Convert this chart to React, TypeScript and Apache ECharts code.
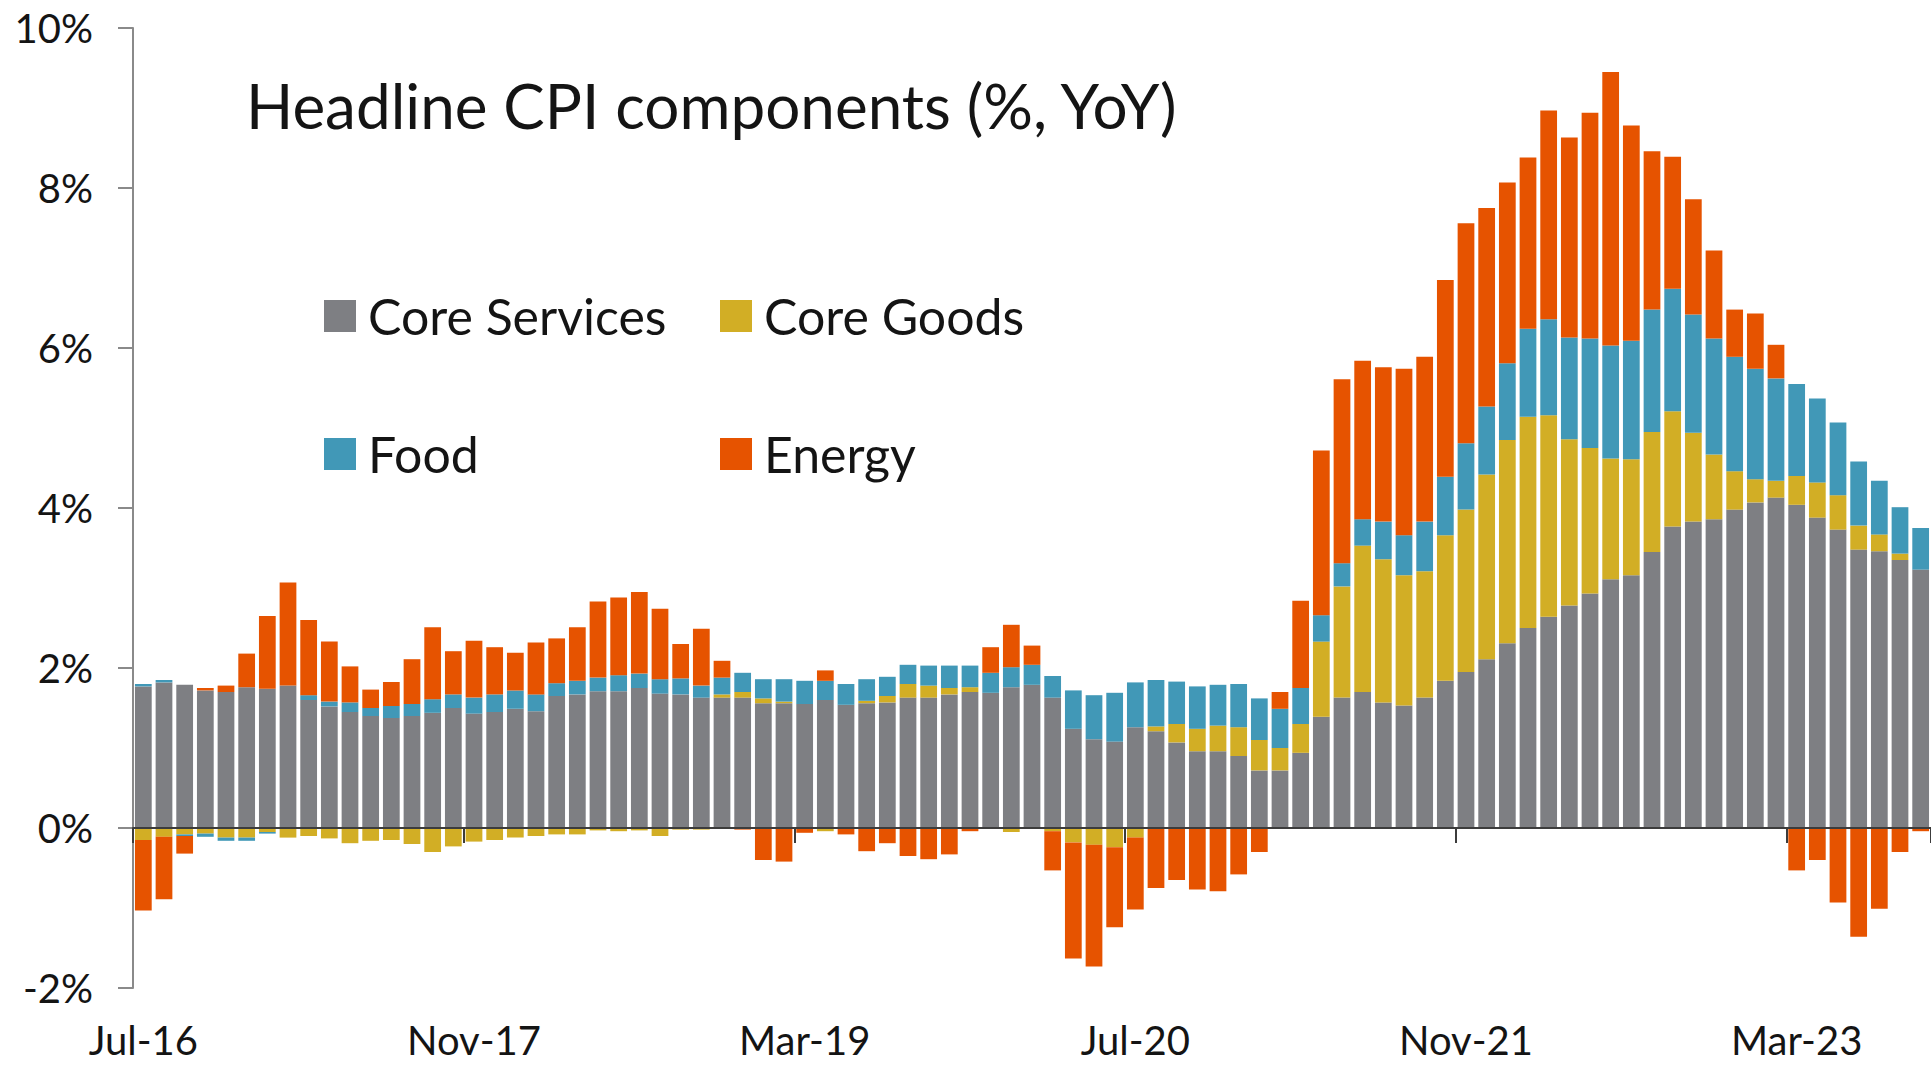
import React, { useEffect, useRef } from 'react';
import * as echarts from 'echarts';

const months = [
  'Jul-16', 'Aug-16', 'Sep-16', 'Oct-16', 'Nov-16', 'Dec-16',
  'Jan-17', 'Feb-17', 'Mar-17', 'Apr-17', 'May-17', 'Jun-17', 'Jul-17', 'Aug-17', 'Sep-17', 'Oct-17', 'Nov-17', 'Dec-17',
  'Jan-18', 'Feb-18', 'Mar-18', 'Apr-18', 'May-18', 'Jun-18', 'Jul-18', 'Aug-18', 'Sep-18', 'Oct-18', 'Nov-18', 'Dec-18',
  'Jan-19', 'Feb-19', 'Mar-19', 'Apr-19', 'May-19', 'Jun-19', 'Jul-19', 'Aug-19', 'Sep-19', 'Oct-19', 'Nov-19', 'Dec-19',
  'Jan-20', 'Feb-20', 'Mar-20', 'Apr-20', 'May-20', 'Jun-20', 'Jul-20', 'Aug-20', 'Sep-20', 'Oct-20', 'Nov-20', 'Dec-20',
  'Jan-21', 'Feb-21', 'Mar-21', 'Apr-21', 'May-21', 'Jun-21', 'Jul-21', 'Aug-21', 'Sep-21', 'Oct-21', 'Nov-21', 'Dec-21',
  'Jan-22', 'Feb-22', 'Mar-22', 'Apr-22', 'May-22', 'Jun-22', 'Jul-22', 'Aug-22', 'Sep-22', 'Oct-22', 'Nov-22', 'Dec-22',
  'Jan-23', 'Feb-23', 'Mar-23', 'Apr-23', 'May-23', 'Jun-23', 'Jul-23', 'Aug-23', 'Sep-23',
];

const coreServices = [
  1.77, 1.82, 1.79, 1.72, 1.70, 1.76,
  1.74, 1.78, 1.60, 1.52, 1.45, 1.40, 1.375, 1.40, 1.44, 1.50, 1.43, 1.45,
  1.49, 1.46, 1.65, 1.67, 1.71, 1.71, 1.75, 1.68, 1.67, 1.63, 1.63, 1.63,
  1.56, 1.56, 1.55, 1.60, 1.54, 1.56, 1.57, 1.63, 1.63, 1.67, 1.70, 1.69,
  1.76, 1.79, 1.63, 1.24, 1.11, 1.08, 1.26, 1.21, 1.07, 0.96, 0.96, 0.90,
  0.72, 0.72, 0.94, 1.39, 1.63, 1.70, 1.57, 1.53, 1.63, 1.84, 1.95, 2.11,
  2.31, 2.50, 2.64, 2.78, 2.93, 3.11, 3.16, 3.45, 3.77, 3.83, 3.86, 3.98,
  4.07, 4.13, 4.04, 3.88, 3.73, 3.48, 3.46, 3.35, 3.23,
];

const coreGoods = [
  -0.15, -0.11, -0.08, -0.07, -0.12, -0.12,
  -0.05, -0.12, -0.10, -0.13, -0.19, -0.16, -0.15, -0.20, -0.30, -0.23, -0.17, -0.15,
  -0.12, -0.10, -0.08, -0.08, -0.03, -0.04, -0.03, -0.10, -0.02, -0.02, 0.04, 0.07,
  0.06, 0.02, 0.0, -0.04, 0.0, 0.03, 0.08, 0.17, 0.15, 0.08, 0.06, 0.0,
  -0.05, 0.0, -0.04, -0.18, -0.21, -0.24, -0.12, 0.06, 0.23, 0.28, 0.32, 0.36,
  0.38, 0.28, 0.36, 0.94, 1.39, 1.83, 1.79, 1.63, 1.58, 1.82, 2.03, 2.31,
  2.54, 2.64, 2.52, 2.08, 1.82, 1.51, 1.45, 1.50, 1.44, 1.11, 0.81, 0.48,
  0.29, 0.21, 0.36, 0.44, 0.43, 0.30, 0.21, 0.08, 0.0,
];

const food = [
  0.03, 0.03, -0.02, -0.04, -0.04, -0.04,
  -0.02, 0.0, 0.06, 0.06, 0.12, 0.10, 0.15, 0.15, 0.17, 0.17, 0.20, 0.22,
  0.23, 0.21, 0.16, 0.17, 0.17, 0.20, 0.18, 0.18, 0.20, 0.15, 0.21, 0.24,
  0.24, 0.28, 0.29, 0.24, 0.26, 0.27, 0.24, 0.24, 0.25, 0.28, 0.27, 0.25,
  0.25, 0.25, 0.27, 0.48, 0.55, 0.61, 0.56, 0.58, 0.53, 0.53, 0.51, 0.54,
  0.52, 0.49, 0.45, 0.33, 0.29, 0.33, 0.47, 0.50, 0.62, 0.73, 0.83, 0.85,
  0.96, 1.10, 1.20, 1.27, 1.37, 1.41, 1.48, 1.53, 1.53, 1.48, 1.45, 1.43,
  1.38, 1.28, 1.15, 1.05, 0.91, 0.80, 0.67, 0.58, 0.52,
];

const energy = [
  -0.88, -0.78, -0.22, 0.03, 0.08, 0.42,
  0.91, 1.29, 0.94, 0.75, 0.45, 0.23, 0.30, 0.56, 0.90, 0.54, 0.71, 0.59,
  0.47, 0.65, 0.56, 0.67, 0.95, 0.97, 1.02, 0.88, 0.43, 0.71, 0.21, -0.02,
  -0.40, -0.42, -0.06, 0.13, -0.08, -0.29, -0.19, -0.35, -0.39, -0.33, -0.04, 0.32,
  0.53, 0.24, -0.49, -1.45, -1.52, -1.00, -0.90, -0.75, -0.65, -0.77, -0.79, -0.58,
  -0.30, 0.21, 1.09, 2.06, 2.30, 1.98, 1.93, 2.08, 2.06, 2.46, 2.75, 2.48,
  2.26, 2.14, 2.61, 2.50, 2.82, 3.42, 2.69, 1.98, 1.65, 1.44, 1.10, 0.59,
  0.69, 0.42, -0.53, -0.40, -0.93, -1.36, -1.01, -0.30, -0.04,
];

const seriesNames = ['Core Services', 'Core Goods', 'Food', 'Energy'];
const seriesColors = ['#7e7f83', '#d2ae25', '#4198b7', '#e65300'];
const seriesValues = [coreServices, coreGoods, food, energy];

const titleText = 'Headline CPI components (%, YoY)';
const FONT = 'Lato, "Open Sans", sans-serif';

export default function App() {
  const ref = useRef<HTMLDivElement>(null);

  useEffect(() => {
    if (!ref.current) return;
    const chart = echarts.init(ref.current, null, { renderer: 'svg' });

    const legendCommon = {
      icon: 'rect',
      itemWidth: 32,
      itemHeight: 32,
      padding: 0,
      selectedMode: false,
      textStyle: { fontSize: 50, fontFamily: FONT, color: '#141414', padding: [0, 0, 0, 7] },
    };

    chart.setOption({
      animation: false,
      backgroundColor: '#ffffff',
      textStyle: { fontFamily: FONT },
      title: {
        text: titleText,
        left: 246,
        top: 74,
        padding: 0,
        textStyle: { fontSize: 62, fontFamily: FONT, fontWeight: 'normal', color: '#141414' },
      },
      legend: [
        { ...legendCommon, data: ['Core Services'], left: 324, top: 291 },
        { ...legendCommon, data: ['Core Goods'], left: 720, top: 291 },
        { ...legendCommon, data: ['Food'], left: 324, top: 429 },
        { ...legendCommon, data: ['Energy'], left: 720, top: 429 },
      ],
      grid: { left: 133, top: 28, width: 1798, height: 960, containLabel: false },
      xAxis: [
        {
          type: 'category',
          data: months,
          position: 'bottom',
          boundaryGap: true,
          z: 5,
          axisLine: { show: true, onZero: true, lineStyle: { color: '#3c3c3c', width: 2 } },
          axisTick: { show: true, interval: 15, length: 15, alignWithLabel: false, lineStyle: { color: '#3c3c3c', width: 2 } },
          axisLabel: { show: false },
          splitLine: { show: false },
        },
        {
          type: 'category',
          data: months,
          position: 'bottom',
          boundaryGap: true,
          axisLine: { show: false, onZero: false },
          axisTick: { show: false },
          axisLabel: {
            show: true,
            interval: 15,
            fontSize: 40,
            lineHeight: 40,
            fontFamily: FONT,
            color: '#141414',
            margin: 32,
          },
          splitLine: { show: false },
        },
      ],
      yAxis: {
        type: 'value',
        min: -2,
        max: 10,
        interval: 2,
        axisLine: { show: true, lineStyle: { color: '#8a8a8a', width: 2 } },
        axisTick: { show: true, length: 15, lineStyle: { color: '#8a8a8a', width: 2 } },
        axisLabel: { fontSize: 40, fontFamily: FONT, color: '#141414', margin: 40, formatter: '{value}%' },
        splitLine: { show: false },
      },
      series: seriesNames.map((name, k) => ({
        name,
        type: 'bar',
        stack: 'total',
        xAxisIndex: 0,
        yAxisIndex: 0,
        barCategoryGap: '19%',
        itemStyle: { color: seriesColors[k] },
        emphasis: { disabled: true },
        data: seriesValues[k],
      })),
    });

    return () => chart.dispose();
  }, []);

  return (
    <div
      ref={ref}
      style={{ position: 'fixed', left: 0, top: 0, width: 1931, height: 1065, background: '#ffffff' }}
    />
  );
}
